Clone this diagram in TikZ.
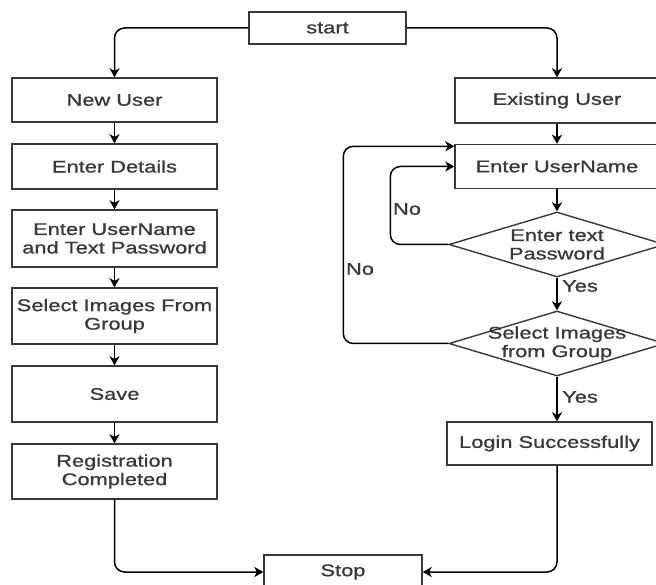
\documentclass[tikz,border=0pt]{standalone}
\usepackage{fontspec}
\setmainfont[FakeStretch=1.3,FakeBold=0.9]{Liberation Sans}
\usetikzlibrary{shapes.geometric,arrows.meta,calc}
\begin{document}
\begin{tikzpicture}[x=1pt,y=-1pt,
  box/.style={draw=black!78, line width=1.4pt, fill=white, inner sep=2pt, minimum width=205pt, align=center, text=black!78, font=\fontsize{16.8}{18.5}\selectfont},
  dia/.style={draw=black!78, line width=1.4pt, diamond, minimum width=216pt, minimum height=65pt, inner sep=0pt},
  txt/.style={align=center, text=black!78, font=\fontsize{16.8}{18.5}\selectfont, inner sep=0pt},
  lbl/.style={text=black!78, font=\fontsize{16.8}{19}\selectfont, inner sep=0pt},
  arr/.style={draw=black, line width=1.5pt, -{Stealth[length=9pt,width=10pt,inset=2.5pt]}},
  rc/.style={rounded corners=10pt}]
\useasboundingbox[fill=white] (0,0) rectangle (656,585);
% left column
\node[box, minimum width=157pt, minimum height=32pt] (start) at (327.5,28) {start};
\node[box, minimum height=44pt] (newuser) at (114.5,100) {New User};
\node[box, minimum height=45pt] (details) at (114.5,166.5) {Enter Details};
\node[box, minimum height=57pt] (eutp) at (114.5,238.5) {Enter UserName\\and Text Password};
\node[box, minimum height=56pt] (selg) at (114.5,316) {Select Images From\\Group};
\node[box, minimum height=56pt] (save) at (114.5,394) {Save};
\node[box, minimum height=55pt] (reg) at (114.5,471.5) {Registration\\Completed};
\node[box, minimum width=158pt, minimum height=34pt] (stop) at (343,572) {Stop};
% right column
\node[box, minimum width=204pt, minimum height=45pt] (exist) at (557,100.5) {Existing User};
\node[box, minimum width=204pt, minimum height=44pt] (eun) at (557,166.5) {Enter UserName};
\node[dia] (d1) at (557,244.5) {};
\node[txt] (d1t) at (d1) {Enter text\\Password};
\node[dia] (d2) at (557,343.5) {};
\node[txt] (d2t) at (d2) {Select Images\\from Group};
\node[box, minimum height=43pt] (login) at (549.5,443.5) {Login Successfully};
% labels
\node[lbl] (no1) at (407,209) {No};
\node[lbl] (no2) at (360,269) {No};
\node[lbl] (yes1) at (580,286) {Yes};
\node[lbl] (yes2) at (580,397) {Yes};
% connectors
\draw[arr, rc] (start.west) -| (newuser.north);
\draw[arr, rc] (start.east) -| (exist.north);
\draw[arr] (newuser.south) -- (details.north);
\draw[arr] (details.south) -- (eutp.north);
\draw[arr] (eutp.south) -- (selg.north);
\draw[arr] (selg.south) -- (save.north);
\draw[arr] (save.south) -- (reg.north);
\draw[arr, rc] (reg.south) |- (stop.west);
\draw[arr] (exist.south) -- (eun.north);
\draw[arr] (eun.south) -- (d1.north);
\draw[arr] (d1.south) -- (d2.north);
\draw[arr] (d2.south) -- (login.north -| d2.south);
\draw[arr, rc] (login.south -| d2.south) |- (stop.east);
\draw[arr, rc] (d1.west) -- ++(-58,0) |- (eun.west);
\draw[arr, rc] (d2.west) -- ++(-105,0) |- ([yshift=-2.5pt]eun.north west);
\end{tikzpicture}
\end{document}
